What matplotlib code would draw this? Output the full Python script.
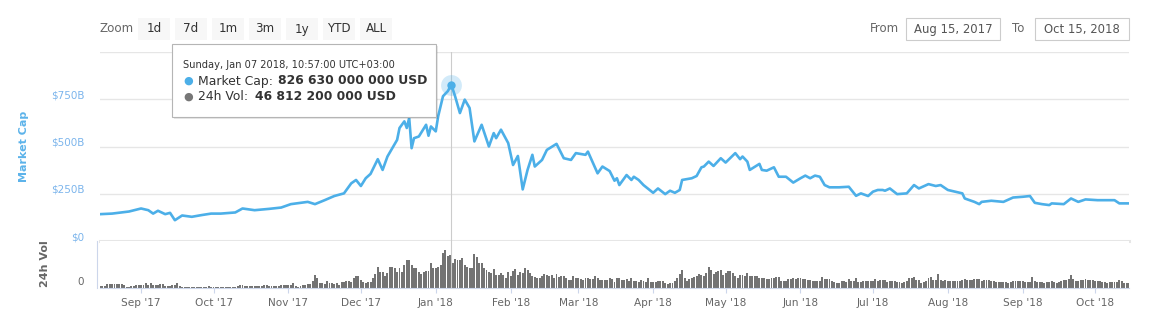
import matplotlib
matplotlib.use('Agg')
import matplotlib.pyplot as plt
import matplotlib.dates as mdates
from matplotlib.patches import Rectangle
from matplotlib.transforms import ScaledTranslation
import pandas as pd

# total market cap, billions USD
cap_dates = [
	'2017-08-15', '2017-08-20', '2017-08-27', '2017-09-01', '2017-09-04', '2017-09-06', '2017-09-08',
	'2017-09-11', '2017-09-13', '2017-09-15', '2017-09-18', '2017-09-22', '2017-09-26', '2017-09-30',
	'2017-10-04', '2017-10-10', '2017-10-13', '2017-10-18', '2017-10-24', '2017-10-29', '2017-11-02',
	'2017-11-09', '2017-11-12', '2017-11-16', '2017-11-20', '2017-11-24', '2017-11-27', '2017-11-29',
	'2017-12-01', '2017-12-03', '2017-12-05', '2017-12-08', '2017-12-10', '2017-12-12', '2017-12-14',
	'2017-12-16', '2017-12-17', '2017-12-19', '2017-12-20', '2017-12-21', '2017-12-22', '2017-12-23',
	'2017-12-25', '2017-12-28', '2017-12-29', '2017-12-30', '2018-01-01', '2018-01-02', '2018-01-04',
	'2018-01-06', '2018-01-07 10:57', '2018-01-09', '2018-01-11', '2018-01-13', '2018-01-15', '2018-01-17',
	'2018-01-20', '2018-01-23', '2018-01-25', '2018-01-26', '2018-01-28', '2018-01-31', '2018-02-02',
	'2018-02-04', '2018-02-06', '2018-02-08', '2018-02-10', '2018-02-11', '2018-02-14', '2018-02-16',
	'2018-02-20', '2018-02-23', '2018-02-26', '2018-02-28', '2018-03-04', '2018-03-05', '2018-03-09',
	'2018-03-11', '2018-03-14', '2018-03-16', '2018-03-17', '2018-03-18', '2018-03-21', '2018-03-23',
	'2018-03-24', '2018-03-26', '2018-03-28', '2018-04-01', '2018-04-03', '2018-04-06', '2018-04-08',
	'2018-04-10', '2018-04-12', '2018-04-13', '2018-04-17', '2018-04-19', '2018-04-21', '2018-04-22',
	'2018-04-24', '2018-04-26', '2018-04-29', '2018-05-01', '2018-05-05', '2018-05-07', '2018-05-08',
	'2018-05-10', '2018-05-11', '2018-05-15', '2018-05-16', '2018-05-18', '2018-05-21', '2018-05-23',
	'2018-05-26', '2018-05-29', '2018-06-01', '2018-06-03', '2018-06-05', '2018-06-07', '2018-06-09',
	'2018-06-11', '2018-06-13', '2018-06-17', '2018-06-21', '2018-06-24', '2018-06-26', '2018-06-29',
	'2018-07-01', '2018-07-03', '2018-07-05', '2018-07-06', '2018-07-08', '2018-07-11', '2018-07-15',
	'2018-07-18', '2018-07-20', '2018-07-24', '2018-07-27', '2018-07-29', '2018-08-01', '2018-08-04',
	'2018-08-07', '2018-08-08', '2018-08-10', '2018-08-12', '2018-08-14', '2018-08-15', '2018-08-19',
	'2018-08-24', '2018-08-28', '2018-09-01', '2018-09-04', '2018-09-06', '2018-09-09', '2018-09-12',
	'2018-09-13', '2018-09-18', '2018-09-21', '2018-09-24', '2018-09-27', '2018-10-02', '2018-10-06',
	'2018-10-09', '2018-10-11', '2018-10-15',
]
cap_values = [
	142, 145, 156, 172, 163, 145, 160,
	142, 149, 110, 135, 128, 137, 145,
	145, 151, 172, 163, 170, 177, 195,
	207, 195, 216, 238, 252, 305, 323,
	291, 332, 355, 433, 376, 447, 491,
	535, 598, 633, 598, 651, 491, 544,
	553, 615, 557, 606, 580, 660, 766,
	793, 826.63, 766, 677, 748, 704, 527,
	615, 500, 571, 544, 589, 518, 402,
	450, 273, 376, 456, 394, 429, 482,
	514, 438, 429, 465, 456, 473, 358,
	394, 370, 319, 332, 296, 349, 323,
	340, 323, 296, 255, 278, 248, 266,
	255, 270, 323, 332, 344, 390, 394,
	420, 397, 438, 415, 465, 433, 447,
	420, 376, 408, 376, 372, 390, 340,
	340, 309, 332, 346, 332, 346, 340,
	296, 284, 284, 287, 239, 252, 238,
	261, 270, 270, 266, 278, 248, 252,
	296, 278, 301, 291, 296, 270, 261,
	252, 225, 216, 207, 195, 207, 213,
	207, 230, 234, 238, 202, 195, 190,
	199, 195, 225, 207, 220, 216, 216,
	216, 199, 199,
]

# daily 24h volume, billions USD, from 2017-08-15
vol_start = '2017-08-15'
vol_values = [
	2.4, 2.4, 2.4, 4.8, 4.8, 5.2, 5.0, 5.4, 5.2, 4.8,
	3.3, 1.4, 1.4, 2.4, 2.4, 3.8, 3.8, 2.9, 2.9, 6.7,
	3.8, 6.7, 2.9, 2.9, 2.9, 5.7, 5.7, 1.9, 1.9, 2.4,
	3.8, 3.8, 7.2, 1.9, 1.4, 1.0, 1.0, 1.0, 1.0, 1.0,
	0.4, 0.4, 1.0, 1.0, 1.0, 1.9, 1.0, 1.0, 1.0, 0.5,
	0.5, 0.5, 1.4, 1.4, 0.5, 1.4, 1.4, 2.4, 3.3, 3.3,
	1.9, 2.4, 2.4, 2.4, 2.4, 2.4, 2.4, 1.9, 2.9, 2.9,
	2.4, 2.4, 1.9, 1.9, 1.9, 3.3, 3.3, 2.9, 4.3, 4.0,
	6.2, 1.5, 0.5, 2.5, 2.9, 2.9, 4.8, 4.8, 9.5, 18,
	13, 7, 6.7, 4.8, 9.5, 7.2, 7.2, 4.8, 6.2, 3.8,
	8.6, 8.6, 9.5, 9.5, 8.6, 13.4, 16.7, 16.7, 11, 8.6,
	7.2, 8.6, 8.6, 14, 19, 29.6, 22, 22, 17, 20.5,
	30, 29, 28.6, 22, 27.7, 22.9, 33, 39.6, 39.6, 33,
	27.7, 27.7, 22, 19, 22.9, 24, 24, 35, 27.7, 27.7,
	30, 33, 49, 54, 46, 46.8, 36, 41, 39.6, 39.6,
	42, 33, 30, 28.6, 28.6, 47.7, 44.4, 35, 35, 27.7,
	25, 23, 20.5, 26, 18, 18, 20.5, 18, 14, 23,
	16, 24, 27, 18, 23, 21, 28.6, 25, 20.5, 16,
	15, 14, 14, 17, 19.6, 18, 16, 18, 14, 19,
	15, 16, 16, 13.4, 11, 11, 16, 13.4, 14, 12,
	11, 13.4, 14, 12.4, 12.4, 16.7, 14, 10.5, 11.5, 11,
	11, 13.4, 12, 8.6, 14, 13.4, 11, 11, 12.4, 9.5,
	13.4, 10, 9.5, 8.6, 11, 9, 8.6, 14, 8.6, 8.6,
	8.6, 10, 10, 9.5, 6.2, 5.2, 7.2, 7.2, 9.5, 13.4,
	19, 25, 14, 9.5, 12.4, 13.4, 14.8, 16.2, 19.6, 18,
	17, 21.5, 29.6, 25, 19.6, 22, 24.3, 25, 18, 21.5,
	24, 24, 21, 16, 14, 18, 18, 17, 20.5, 16,
	17, 17, 16.7, 14, 13.4, 13.4, 12.4, 12, 13.4, 14,
	15.3, 15.3, 10, 10, 10, 12.4, 12, 14, 12.4, 13,
	13.4, 12, 12, 11, 11, 10, 9.5, 9.5, 9.5, 15.3,
	12, 12, 12.4, 9.5, 8, 7.2, 7.2, 9.5, 9, 8.6,
	12.4, 9.5, 9.5, 13.4, 7.6, 8.6, 9.5, 9.5, 9.5, 9.5,
	9.5, 12, 9.5, 11, 11, 11, 8.6, 9.5, 10, 10,
	8.6, 8.6, 6.2, 8, 9.5, 13.4, 13, 14.8, 11, 11,
	6.2, 8, 9.5, 13.4, 15.7, 11, 11, 19.6, 11, 10,
	11, 9.5, 9.5, 9.5, 10, 9.5, 9.5, 11, 12.4, 11,
	11, 10.5, 12.4, 12.4, 12.4, 9.5, 10.5, 10.5, 10.5, 10,
	9, 8.6, 8.6, 8.6, 8.6, 8.6, 7.2, 8, 9.5, 9.5,
	9.5, 9.5, 9.5, 8.6, 8.6, 8.6, 15.3, 9.5, 8.6, 8.6,
	8.6, 7.2, 8.6, 8.6, 9.5, 8.6, 7.2, 8, 9.5, 11,
	11, 12.4, 18, 12, 10, 10, 11, 11, 12.4, 11,
	11, 11, 10, 9.5, 9, 8.6, 8, 7.2, 7.6, 7.6,
	8.6, 8.6, 11, 9.5, 7, 6.2, 6,
]

tip_time = '2018-01-07 10:57'
tip_header = 'Sunday, Jan 07 2018, 10:57:00 UTC+03:00'
tip_cap = '826 630 000 000 USD'
tip_vol = '46 812 200 000 USD'

zoom_buttons = ['1d', '7d', '1m', '3m', '1y', 'YTD', 'ALL']
range_from = 'Aug 15, 2017'
range_to = 'Oct 15, 2018'

LINE = '#4cafe8'
LABEL_BLUE = '#7cb5ec'
BAR = '#737373'
AXIS = '#ccd6eb'
GRID = '#e6e6e6'
TEXT = '#666666'

W, H = 1153, 324


def fx(x):
	return x / W


def fy(y):
	return 1 - y / H


def main():
	plt.rcParams['font.family'] = 'DejaVu Sans'
	fig = plt.figure(figsize=(W / 100, H / 100), dpi=100)
	fig.patch.set_facecolor('white')

	ax = fig.add_axes([fx(100), fy(241), (1129 - 100) / W, (241 - 52) / H])
	axv = fig.add_axes([fx(100), fy(287.5), (1129 - 100) / W, (287.5 - 241) / H], sharex=ax)

	cap_dt = pd.to_datetime(cap_dates, format='mixed')
	vol_dt = pd.date_range(vol_start, periods=len(vol_values), freq='D')
	tip_dt = pd.Timestamp(tip_time)

	# market cap panel
	ax.plot(cap_dt, cap_values, color=LINE, lw=1.9, solid_joinstyle='round', zorder=3)
	ax.set_ylim(0, 1000)
	ax.set_yticks([0, 250, 500, 750, 1000])
	ax.set_yticklabels(['$0', '$250B', '$500B', '$750B', ''])
	ax.yaxis.grid(True, color=GRID, lw=1)
	ax.set_axisbelow(True)
	for s in ax.spines.values():
		s.set_visible(False)
	ax.tick_params(axis='y', length=0, pad=11, labelcolor=LABEL_BLUE, labelsize=7.5)
	ax.tick_params(axis='x', bottom=False, labelbottom=False)
	for lab in ax.get_yticklabels():
		lab.set_transform(lab.get_transform() + ScaledTranslation(0, 5 / 100, fig.dpi_scale_trans))
	ax.axhline(0, color=GRID, lw=2.2, zorder=1, clip_on=False)
	ax.axvline(tip_dt, color='#cccccc', lw=0.8, zorder=2)
	peak = cap_values[cap_dates.index(tip_time)]
	ax.plot(tip_dt, peak, 'o', ms=15, color=LINE, alpha=0.25, mew=0, clip_on=False, zorder=4)
	ax.plot(tip_dt, peak, 'o', ms=6, color=LINE, mew=0, clip_on=False, zorder=5)

	# volume panel
	axv.bar(vol_dt, vol_values, width=0.8, color=BAR, zorder=2)
	axv.set_ylim(0, 67)
	axv.set_yticks([])
	axv.spines['top'].set_visible(False)
	axv.spines['right'].set_visible(False)
	axv.spines['bottom'].set_color(AXIS)
	axv.spines['left'].set_color(AXIS)
	axv.spines['left'].set_position(('outward', 2))
	axv.axvline(tip_dt, color='#cccccc', lw=0.8, zorder=3)
	axv.xaxis.set_major_locator(mdates.MonthLocator())
	axv.xaxis.set_major_formatter(mdates.DateFormatter("%b '%y"))
	axv.tick_params(axis='x', color=AXIS, length=3.75, pad=3.5, labelcolor=TEXT, labelsize=7.6)
	axv.set_xlim(pd.Timestamp('2017-08-15'), pd.Timestamp('2018-10-15'))
	fig.text(fx(84), fy(282), '0', ha='right', va='center', fontsize=7.5, color=TEXT)

	# axis titles
	fig.text(fx(24), fy(146), 'Market Cap', rotation=90, ha='center', va='center',
		fontsize=8, fontweight='bold', color='#5cb3ea')
	fig.text(fx(45.5), fy(264), '24h Vol', rotation=90, ha='center', va='center',
		fontsize=8, fontweight='bold', color='#666666')

	# range selector
	fig.text(fx(100), fy(29), 'Zoom', ha='left', va='center', fontsize=8.6, color=TEXT)
	for i, b in enumerate(zoom_buttons):
		x0 = 138 + i * 37
		fig.add_artist(Rectangle((fx(x0), fy(40)), 32 / W, 22 / H, transform=fig.transFigure,
			facecolor='#f7f7f7', edgecolor='none'))
		fig.text(fx(x0 + 16), fy(29), b, ha='center', va='center', fontsize=8.6, color='#333333')

	fig.text(fx(870), fy(29), 'From', ha='left', va='center', fontsize=8.5, color=TEXT)
	fig.text(fx(1012), fy(29), 'To', ha='left', va='center', fontsize=8.5, color=TEXT)
	for x0, x1, s in [(906, 1000, range_from), (1035, 1129, range_to)]:
		fig.add_artist(Rectangle((fx(x0), fy(40)), (x1 - x0) / W, 22 / H, transform=fig.transFigure,
			facecolor='white', edgecolor='#cccccc', lw=0.8))
		fig.text(fx((x0 + x1) / 2), fy(29), s, ha='center', va='center', fontsize=8.4, color='#555555')

	# tooltip
	fig.add_artist(Rectangle((fx(174), fy(119)), 264 / W, 73 / H, transform=fig.transFigure,
		facecolor='#00000018', edgecolor='none', zorder=9))
	fig.add_artist(Rectangle((fx(172), fy(117)), 264 / W, 73 / H, transform=fig.transFigure,
		facecolor='white', edgecolor='#b5b5b5', lw=0.8, zorder=10))
	fig.text(fx(183), fy(65), tip_header, ha='left', va='center', fontsize=7.1, color='#333333', zorder=11)
	fig.text(fx(188), fy(81), '\u25cf', ha='center', va='center', fontsize=8, color=LINE, zorder=11)
	fig.text(fx(198), fy(81), 'Market Cap:', ha='left', va='center', fontsize=8.9, color='#333333', zorder=11)
	fig.text(fx(278), fy(81), tip_cap, ha='left', va='center', fontsize=8.9, fontweight='bold',
		color='#333333', zorder=11)
	fig.text(fx(188), fy(97), '\u25cf', ha='center', va='center', fontsize=8, color='#777777', zorder=11)
	fig.text(fx(198), fy(97), '24h Vol:', ha='left', va='center', fontsize=8.9, color='#333333', zorder=11)
	fig.text(fx(255), fy(97), tip_vol, ha='left', va='center', fontsize=8.9, fontweight='bold',
		color='#333333', zorder=11)

	fig.savefig('out.png', dpi=100)


if __name__ == '__main__':
	main()
